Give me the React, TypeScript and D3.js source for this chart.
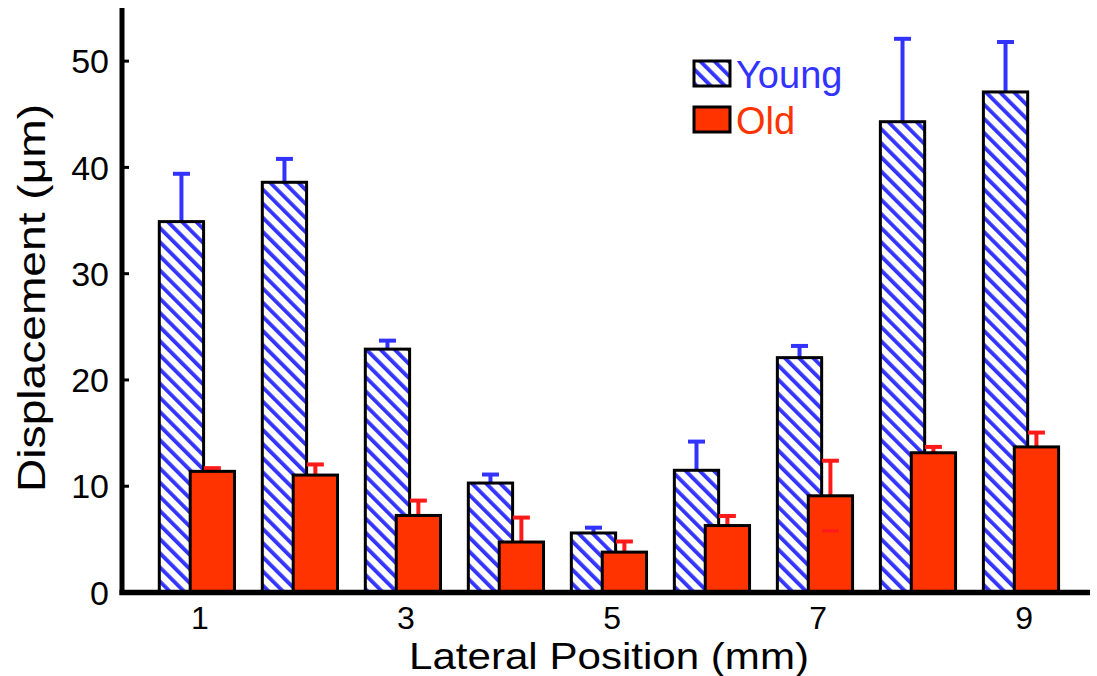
import React from "react";
import * as d3 from "d3";

const positions = [1, 2, 3, 4, 5, 6, 7, 8, 9];
const youngValues = [34.9, 38.6, 22.9, 10.3, 5.6, 11.5, 22.1, 44.3, 47.1];
const youngErrors = [4.5, 2.2, 0.8, 0.8, 0.5, 2.7, 1.1, 7.8, 4.7];
const oldValues = [11.4, 11.05, 7.25, 4.75, 3.8, 6.3, 9.1, 13.15, 13.7];
const oldErrors = [0.3, 1.0, 1.4, 2.3, 1.0, 0.9, 3.3, 0.55, 1.35];
const oldLowerCapShown = [false, false, false, false, false, false, true, false, false];
const xTicks = [1, 3, 5, 7, 9];
const yTicks = [0, 10, 20, 30, 40, 50];
const seriesNames = ["Young", "Old"];

const BLUE = "#3333ff";
const ORANGE = "#ff3300";
const RED = "#ff1a1a";
const FONT = "'Liberation Sans', Arial, sans-serif";

export default function App() {
  const W = 1097;
  const H = 676;
  const x = d3.scaleLinear().domain([0.243, 9.64]).range([122, 1090]);
  const y = d3.scaleLinear().domain([0, 55]).range([592.5, 8]);
  const unit = x(2) - x(1);
  const barW = 0.43 * unit;
  const youngOff = -0.18;
  const oldOff = 0.12;
  const capW = 17;

  return (
    <svg width={W} height={H} style={{ display: "block", position: "absolute", left: 0, top: 0 }}>
      <defs>
        <pattern id="hatch" patternUnits="userSpaceOnUse" width={10} height={10} patternTransform="rotate(-45)">
          <rect x={0} y={0} width={10} height={10} fill="#ffffff" />
          <rect x={0} y={0} width={3.8} height={10} fill={BLUE} />
        </pattern>
      </defs>
      <rect x={0} y={0} width={W} height={H} fill="#ffffff" />

      {/* Young bars with error bars */}
      {positions.map((p, i) => {
        const cx = x(p + youngOff);
        const top = y(youngValues[i]);
        const et = y(youngValues[i] + youngErrors[i]);
        return (
          <g key={"y" + i}>
            <line x1={cx} x2={cx} y1={top} y2={et} stroke={BLUE} strokeWidth={4} />
            <line x1={cx - capW / 2} x2={cx + capW / 2} y1={et} y2={et} stroke={BLUE} strokeWidth={4} />
            <rect x={cx - barW / 2} y={top} width={barW} height={y(0) - top} fill="url(#hatch)" stroke="#000" strokeWidth={3} />
          </g>
        );
      })}

      {/* Old bars with error bars */}
      {positions.map((p, i) => {
        const cx = x(p + oldOff);
        const top = y(oldValues[i]);
        const et = y(oldValues[i] + oldErrors[i]);
        const eb = y(oldValues[i] - oldErrors[i]);
        return (
          <g key={"o" + i}>
            <line x1={cx} x2={cx} y1={top} y2={et} stroke={RED} strokeWidth={4} />
            <line x1={cx - capW / 2} x2={cx + capW / 2} y1={et} y2={et} stroke={RED} strokeWidth={4} />
            <rect x={cx - barW / 2} y={top} width={barW} height={y(0) - top} fill={ORANGE} stroke="#000" strokeWidth={3} />
            {oldLowerCapShown[i] && (
              <line x1={cx - capW / 2} x2={cx + capW / 2} y1={eb} y2={eb} stroke={RED} strokeWidth={3} />
            )}
          </g>
        );
      })}

      {/* axes */}
      <line x1={122} x2={122} y1={y(55)} y2={y(0) + 2.5} stroke="#000" strokeWidth={5} />
      <line x1={119.5} x2={1090} y1={y(0)} y2={y(0)} stroke="#000" strokeWidth={5.5} />
      {yTicks.map((t) => (
        <g key={"yt" + t}>
          <line x1={122} x2={129} y1={y(t)} y2={y(t)} stroke="#000" strokeWidth={3} />
          <text x={109} y={y(t)} dy="0.36em" textAnchor="end" fontFamily={FONT} fontSize={34} fill="#000">
            {t}
          </text>
        </g>
      ))}
      {xTicks.map((t) => (
        <text key={"xt" + t} x={x(t)} y={629} textAnchor="middle" fontFamily={FONT} fontSize={32} fill="#000">
          {t}
        </text>
      ))}

      <text x={609} y={669} textAnchor="middle" fontFamily={FONT} fontSize={36} textLength={400} lengthAdjust="spacingAndGlyphs" fill="#000">
        Lateral Position (mm)
      </text>
      <text
        transform={`translate(45, 298) rotate(-90)`}
        textAnchor="middle"
        fontFamily={FONT}
        fontSize={38}
        textLength={388}
        lengthAdjust="spacingAndGlyphs"
        fill="#000"
      >
        Displacement (μm)
      </text>

      {/* legend */}
      <rect x={694} y={61} width={36} height={25} fill="url(#hatch)" stroke="#000" strokeWidth={3} />
      <text x={736} y={88} fontFamily={FONT} fontSize={38} fill={BLUE}>
        {seriesNames[0]}
      </text>
      <rect x={694} y={107} width={36} height={25} fill={ORANGE} stroke="#000" strokeWidth={3} />
      <text x={736} y={134} fontFamily={FONT} fontSize={38} fill={ORANGE}>
        {seriesNames[1]}
      </text>
    </svg>
  );
}
